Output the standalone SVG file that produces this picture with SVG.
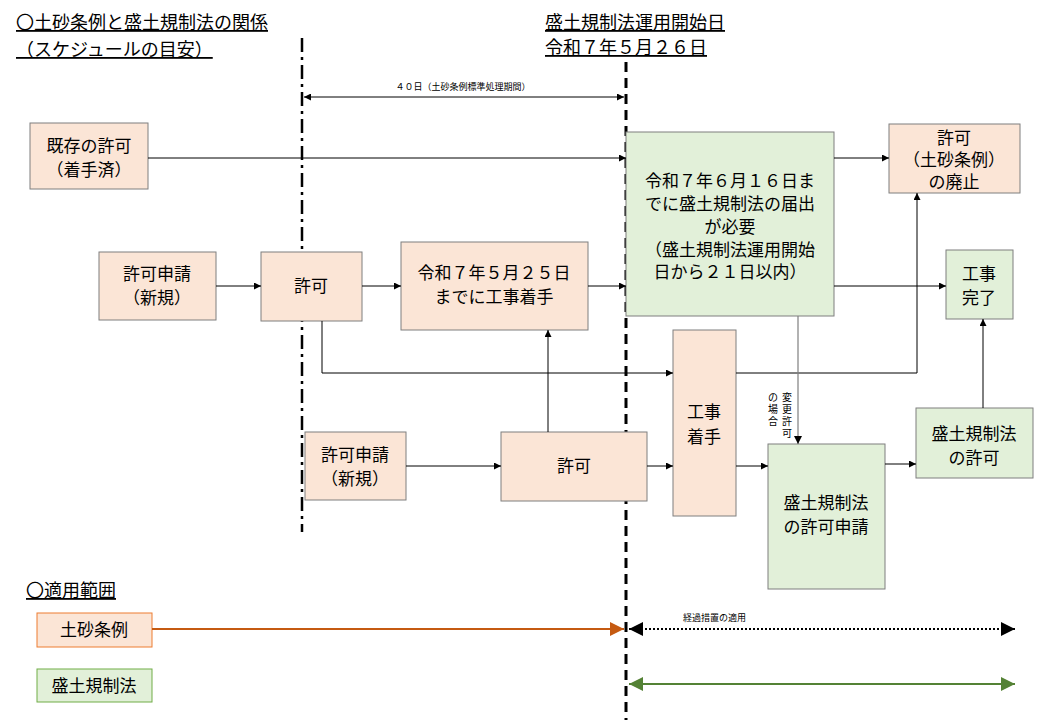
<svg xmlns="http://www.w3.org/2000/svg" width="1040" height="720" viewBox="0 0 1040 720">
<style>
text{font-family:"Noto Sans CJK JP","Liberation Sans",sans-serif;fill:#000}
.t{font-size:17px;text-anchor:middle}
.h{font-size:18px;text-decoration:underline}
.s{font-size:9px}
.v{font-size:10px;text-anchor:middle}
.p{fill:#FBE5D6;stroke:#7f7f7f;stroke-width:1}
.g{fill:#E2F0D9;stroke:#7f7f7f;stroke-width:1}
.c{stroke:#000;stroke-width:1;fill:none}
</style>
<defs>
<marker id="a" viewBox="0 0 10 10" refX="10" refY="5" markerWidth="7" markerHeight="7" orient="auto-start-reverse"><path d="M0,0L10,5L0,10z" fill="#000"/></marker>
<marker id="ao" viewBox="0 0 10 10" refX="10" refY="5" markerWidth="7" markerHeight="7" orient="auto-start-reverse"><path d="M0,0L10,5L0,10z" fill="#C55A11"/></marker>
<marker id="ag" viewBox="0 0 10 10" refX="10" refY="5" markerWidth="7" markerHeight="7" orient="auto-start-reverse"><path d="M0,0L10,5L0,10z" fill="#548235"/></marker>
</defs>
<text class="h" x="16" y="29">〇土砂条例と盛土規制法の関係</text>
<text class="h" x="16" y="56">（スケジュールの目安）</text>
<text class="h" x="545" y="29">盛土規制法運用開始日</text>
<text class="h" x="545" y="54">令和７年５月２６日</text>
<text class="h" x="26" y="597">〇適用範囲</text>
<line x1="302" y1="38" x2="302" y2="532" stroke="#000" stroke-width="2.5" stroke-dasharray="14,5,3,5"/>
<line x1="626" y1="62" x2="626" y2="720" stroke="#000" stroke-width="3" stroke-dasharray="10,6"/>
<g id="nodes">
<g id="n1"><rect class="p" x="30" y="123" width="118" height="66"/><text class="t" x="89" y="152">既存の許可</text><text class="t" x="89" y="176">（着手済）</text></g>
<g id="n2"><rect class="g" x="626" y="132" width="208" height="184"/><text class="t" x="730" y="187">令和７年６月１６日ま</text><text class="t" x="730" y="210">でに盛土規制法の届出</text><text class="t" x="730" y="233">が必要</text><text class="t" x="730" y="256">（盛土規制法運用開始</text><text class="t" x="730" y="278">日から２１日以内）</text></g>
<g id="n3"><rect class="p" x="889" y="124" width="131" height="69"/><text class="t" x="954" y="144">許可</text><text class="t" x="954" y="166">（土砂条例）</text><text class="t" x="954" y="188">の廃止</text></g>
<g id="n4"><rect class="p" x="99" y="252" width="117" height="68"/><text class="t" x="157" y="280">許可申請</text><text class="t" x="157" y="304">（新規）</text></g>
<g id="n5"><rect class="p" x="261" y="252" width="101" height="69"/><text class="t" x="311" y="292">許可</text></g>
<g id="n6"><rect class="p" x="401" y="242" width="187" height="88"/><text class="t" x="494" y="279">令和７年５月２５日</text><text class="t" x="494" y="303">までに工事着手</text></g>
<g id="n7"><rect class="g" x="946" y="250" width="67" height="69"/><text class="t" x="979" y="280">工事</text><text class="t" x="979" y="304">完了</text></g>
<g id="n8"><rect class="p" x="673" y="330" width="63" height="186"/><text class="t" x="704" y="418">工事</text><text class="t" x="704" y="443">着手</text></g>
<g id="n9"><rect class="p" x="305" y="432" width="101" height="68"/><text class="t" x="355" y="461">許可申請</text><text class="t" x="355" y="485">（新規）</text></g>
<g id="n10"><rect class="p" x="501" y="432" width="146" height="69"/><text class="t" x="574" y="472">許可</text></g>
<g id="n11"><rect class="g" x="768" y="444" width="117" height="145"/><text class="t" x="826" y="509">盛土規制法</text><text class="t" x="826" y="533">の許可申請</text></g>
<g id="n12"><rect class="g" x="916" y="408" width="117" height="70"/><text class="t" x="974" y="440">盛土規制法</text><text class="t" x="974" y="464">の許可</text></g>
<g id="n13"><rect x="37" y="613" width="115" height="34" fill="#FBE5D6" stroke="#ED7D31"/><text class="t" x="94" y="636">土砂条例</text></g>
<g id="n14"><rect x="37" y="669" width="115" height="33" fill="#E2F0D9" stroke="#70AD47"/><text class="t" x="94" y="692">盛土規制法</text></g>
</g>
<g id="connectors">
<line class="c" x1="304" y1="97" x2="624" y2="97" stroke-width="2" marker-start="url(#a)" marker-end="url(#a)"/>
<text class="s" x="463" y="90" text-anchor="middle">４０日（土砂条例標準処理期間）</text>
<line class="c" x1="148" y1="158" x2="626" y2="158" marker-end="url(#a)"/>
<line class="c" x1="834" y1="158" x2="889" y2="158" marker-end="url(#a)"/>
<line class="c" x1="216" y1="286" x2="261" y2="286" marker-end="url(#a)"/>
<line class="c" x1="362" y1="286" x2="401" y2="286" marker-end="url(#a)"/>
<line class="c" x1="588" y1="286" x2="626" y2="286" marker-end="url(#a)"/>
<line class="c" x1="834" y1="286" x2="946" y2="286" marker-end="url(#a)"/>
<polyline class="c" points="322,321 322,373 673,373" marker-end="url(#a)"/>
<polyline class="c" points="736,373 917,373 917,193" marker-end="url(#a)"/>
<line class="c" x1="406" y1="466" x2="501" y2="466" marker-end="url(#a)"/>
<line class="c" x1="548" y1="432" x2="548" y2="330" marker-end="url(#a)"/>
<line class="c" x1="647" y1="466" x2="673" y2="466" marker-end="url(#a)"/>
<line class="c" x1="736" y1="466" x2="768" y2="466" marker-end="url(#a)"/>
<line x1="798" y1="316" x2="798" y2="444" stroke="#7f7f7f" stroke-width="1.2" marker-end="url(#a)"/>
<text class="v" x="787" y="401">変</text><text class="v" x="787" y="413">更</text><text class="v" x="787" y="425">許</text><text class="v" x="787" y="437">可</text>
<text class="v" x="773" y="401">の</text><text class="v" x="773" y="413">場</text><text class="v" x="773" y="425">合</text>
<line class="c" x1="885" y1="464" x2="916" y2="464" marker-end="url(#a)"/>
<line class="c" x1="983" y1="408" x2="983" y2="319" marker-end="url(#a)"/>
<line x1="152" y1="629" x2="624" y2="629" stroke="#C55A11" stroke-width="2" marker-end="url(#ao)"/>
<line x1="629" y1="629" x2="1015" y2="629" stroke="#000" stroke-width="2" stroke-dasharray="2,2" marker-start="url(#a)" marker-end="url(#a)"/>
<text class="s" x="683" y="621">経過措置の適用</text>
<line x1="629" y1="684" x2="1015" y2="684" stroke="#548235" stroke-width="2" marker-start="url(#ag)" marker-end="url(#ag)"/>
</g>
</svg>
